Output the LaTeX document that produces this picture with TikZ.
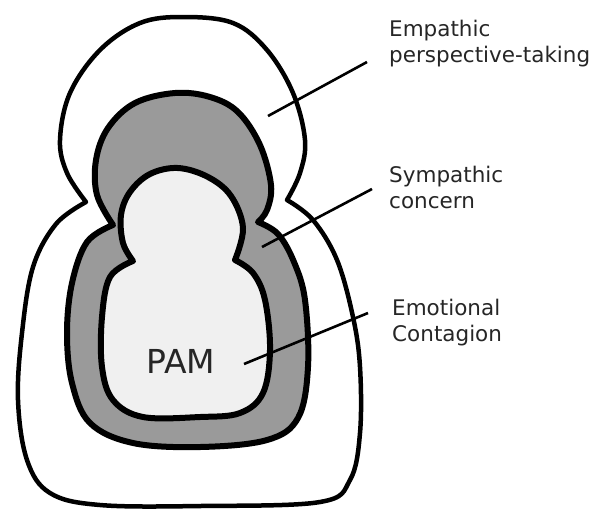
\documentclass[tikz,border=0pt]{standalone}
\usepackage{fontspec}
\setmainfont{DejaVu Sans}
\definecolor{midgray}{HTML}{9A9A9A}
\definecolor{innerfill}{HTML}{F0F0F0}
\tikzset{
  outerline/.style={draw=black, line width=4.5pt, fill=white, line join=round},
  midline/.style={draw=black, line width=6pt, fill=midgray, line join=round},
  innerline/.style={draw=black, line width=6pt, fill=innerfill, line join=round},
  leader/.style={draw=black, line width=2.6pt},
  label/.style={anchor=base west, inner sep=0pt, align=left, font=\fontsize{21.5}{25.5}\selectfont, text=black!85},
}
\begin{document}
\begin{tikzpicture}[x=1pt,y=-1pt]
\useasboundingbox (0,0) rectangle (596,515);
% outer
\path[outerline] plot[smooth, tension=0.6] coordinates {(86,202) (67,173) (60,140) (70,93) (100,50) (140,23) (183,17) (233,23) (267,50) (293,93) (305,140) (300,173) (287,200)}
 -- plot[smooth, tension=0.6] coordinates {(287,200) (313,220) (337,260) (353,317) (360,367) (360,433) (350,480) (320,502) (200,506) (100,505) (50,493) (27,460) (18,400) (22,333) (33,267) (56,224) (86,202)} -- cycle;
% middle
\path[midline] plot[smooth, tension=0.6] coordinates {(113,225) (97,195) (96,160) (108,128) (135,103) (175,93) (210,97) (238,112) (260,145) (271,185) (267,210) (258,222)}
 -- plot[smooth, tension=0.6] coordinates {(258,222) (278,234) (294,262) (305,300) (308,367) (298,418) (267,440) (200,447) (133,443) (90,423) (72,383) (67,333) (72,283) (87,242) (113,225)} -- cycle;
% inner
\path[innerline] plot[smooth, tension=0.6] coordinates {(133,261) (123,243) (121,215) (130,192) (150,174) (178,168) (208,177) (231,196) (243,228) (235,260)}
 -- plot[smooth, tension=0.6] coordinates {(235,260) (253,273) (265,300) (270,350) (263,393) (240,413) (200,417) (143,417) (113,400) (102,367) (102,317) (110,277) (133,261)} -- cycle;
% PAM
\node[inner sep=0pt, font=\fontsize{33}{33}\selectfont, text=black!85] (pam) at (181,361) {PAM};
% labels
\node[label] (l1) at (389,62) {Empathic\\perspective-taking};
\node[label] (l2) at (389,208) {Sympathic\\concern};
\node[label] (l3) at (392,341) {Emotional\\Contagion};
% leader lines
\coordinate (a1) at (268,116); \coordinate (b1) at (367,62);
\coordinate (a2) at (262,247); \coordinate (b2) at (372,189);
\coordinate (a3) at (244,364); \coordinate (b3) at (368,313);
\draw[leader] (a1) -- (b1);
\draw[leader] (a2) -- (b2);
\draw[leader] (a3) -- (b3);
\end{tikzpicture}
\end{document}
